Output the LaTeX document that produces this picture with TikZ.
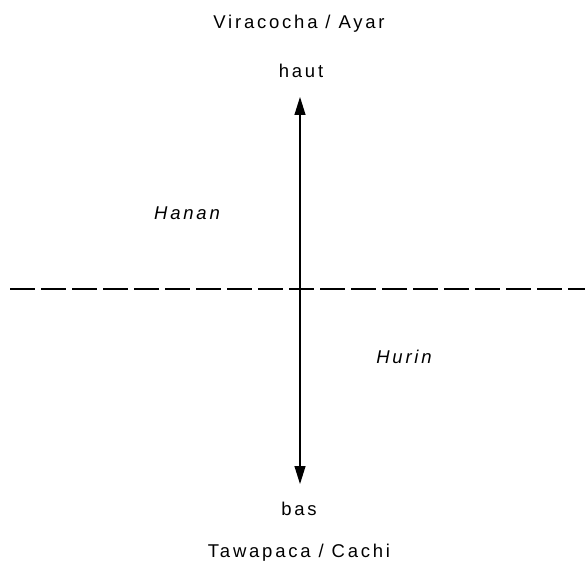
\documentclass[tikz,border=0pt]{standalone}
\usepackage{fontspec}
\setmainfont{Liberation Sans}[LetterSpace=15]
\usetikzlibrary{arrows.meta}
\begin{document}
\begin{tikzpicture}[x=1pt,y=1pt,
  lbl/.style={anchor=base,inner sep=0pt,font=\fontsize{18.5}{21}\selectfont},
  ilbl/.style={lbl,font=\fontsize{18.5}{21}\selectfont\itshape},
  axisline/.style={line width=1.2pt,{Triangle[length=18pt,width=11pt]}-{Triangle[length=18pt,width=11pt]}},
  divline/.style={line width=2.6pt,dash pattern=on 24.5pt off 6.5pt}]
\useasboundingbox (0,0) rectangle (585,565);
\node[lbl] (top) at (299,536) {Viracocha / Ayar};
\node[lbl] (haut) at (301,487) {haut};
\node[lbl] (bas) at (299,50) {bas};
\node[lbl] (bot) at (299,7.5) {Tawapaca / Cachi};
\node[ilbl] (hanan) at (187,345) {Hanan};
\node[ilbl] (hurin) at (404,202) {Hurin};
\coordinate (up) at (300,468);
\coordinate (down) at (300,81);
\coordinate (L) at (10,276);
\coordinate (R) at (585,276);
\draw[divline] (L) -- (R);
\draw[axisline] (down) -- (up);
\end{tikzpicture}
\end{document}
